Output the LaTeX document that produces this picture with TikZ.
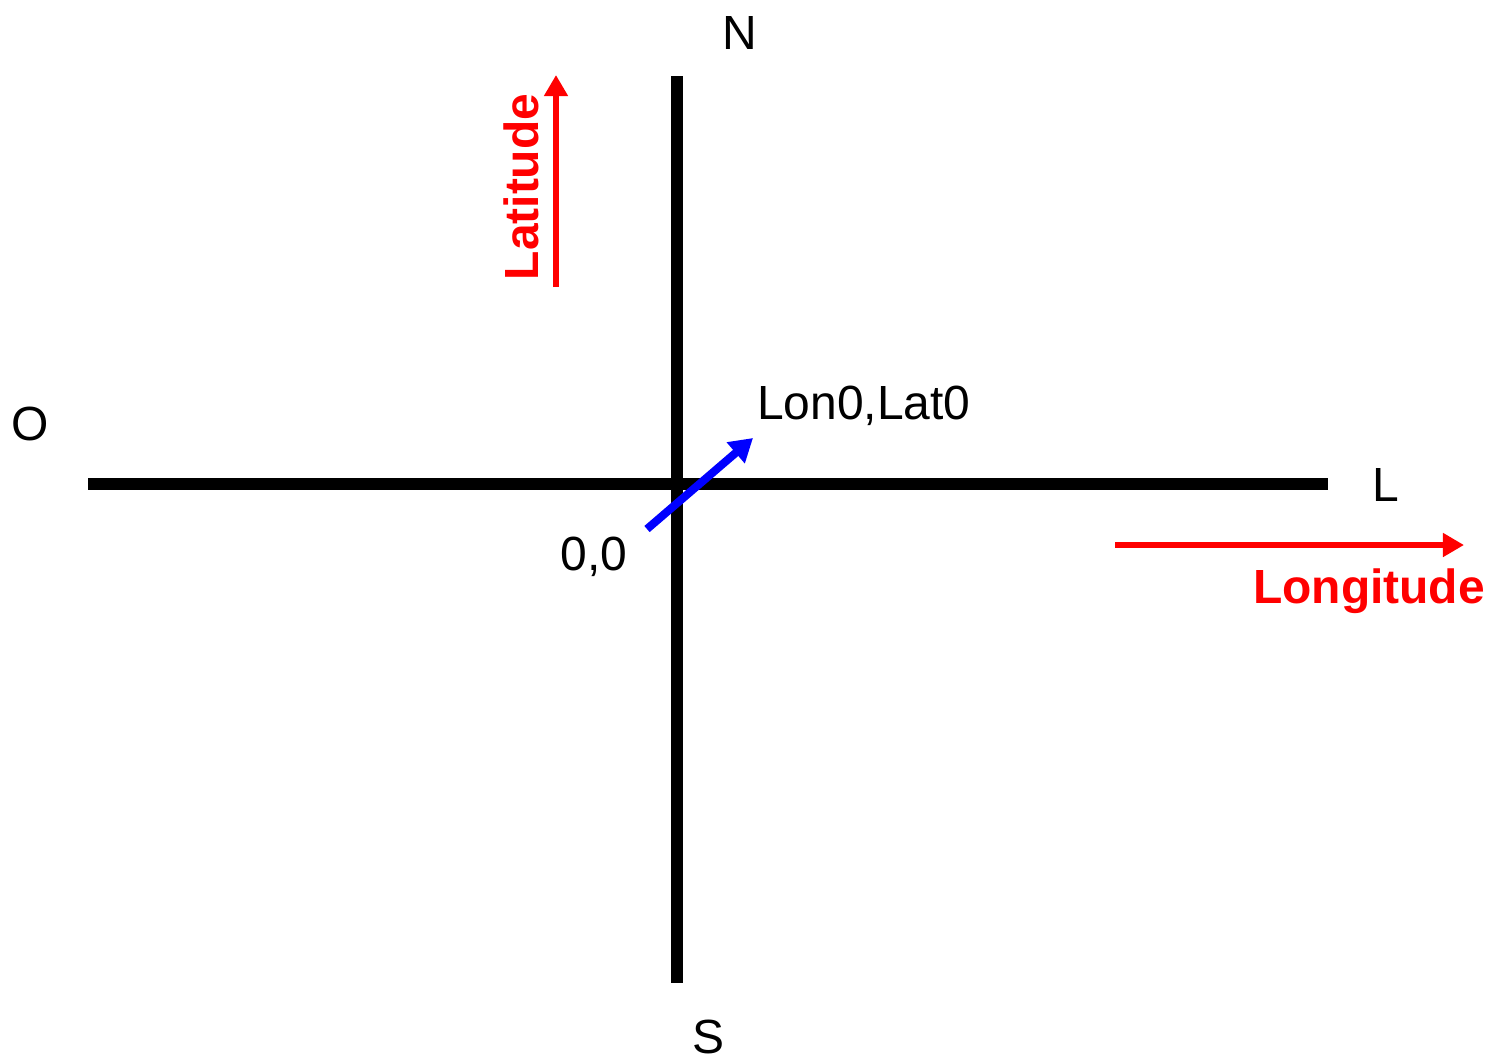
\documentclass[tikz,border=0pt]{standalone}
\usepackage{fontspec}
\setmainfont{Liberation Sans}
\usetikzlibrary{arrows.meta}
\definecolor{axred}{RGB}{255, 0, 0}
\definecolor{axblue}{RGB}{0, 0, 255}

\begin{document}
\begin{tikzpicture}[x=0.02cm, y=-0.02cm,
    axis/.style={line width=6.8pt},
    dirarrow/.style={line width=3.4pt, axred, -{Triangle[length=12pt, width=13pt]}},
    origarrow/.style={line width=4.6pt, axblue, -{Triangle[length=13pt, width=15pt]}},
    lbl/.style={font=\fontsize{27.3}{32}\selectfont, inner sep=0pt},
    redlbl/.style={lbl, axred, font=\fontsize{27.3}{32}\selectfont\bfseries}]

\useasboundingbox (0,0) rectangle (1491,1063);

% Eixos
\coordinate (west) at (88,484);
\coordinate (east) at (1328,484);
\coordinate (north) at (677,76);
\coordinate (south) at (677,983);
\draw[axis] (west) -- (east);
\draw[axis] (north) -- (south);

% Pontos cardeais
\node[lbl] (n) at (740,33) {N};
\node[lbl] (s) at (708,1037) {S};
\node[lbl] (o) at (30,424) {O};
\node[lbl] (l) at (1386,485) {L};

% Latitude
\coordinate (latstart) at (556,287);
\coordinate (latend) at (556,75);
\draw[dirarrow] (latstart) -- (latend);
\node[redlbl, rotate=90] (lat) at (521,187) {Latitude};

% Longitude
\coordinate (lonstart) at (1115,545);
\coordinate (lonend) at (1464,545);
\draw[dirarrow] (lonstart) -- (lonend);
\node[redlbl] (lon) at (1369,591) {Longitude};

% Origem
\coordinate (origstart) at (647,529);
\coordinate (origend) at (753,438);
\draw[origarrow] (origstart) -- (origend);
\node[lbl] (ref) at (864,406) {Lon0,Lat0};
\node[lbl] (zero) at (594,557) {0,0};

\end{tikzpicture}
\end{document}
